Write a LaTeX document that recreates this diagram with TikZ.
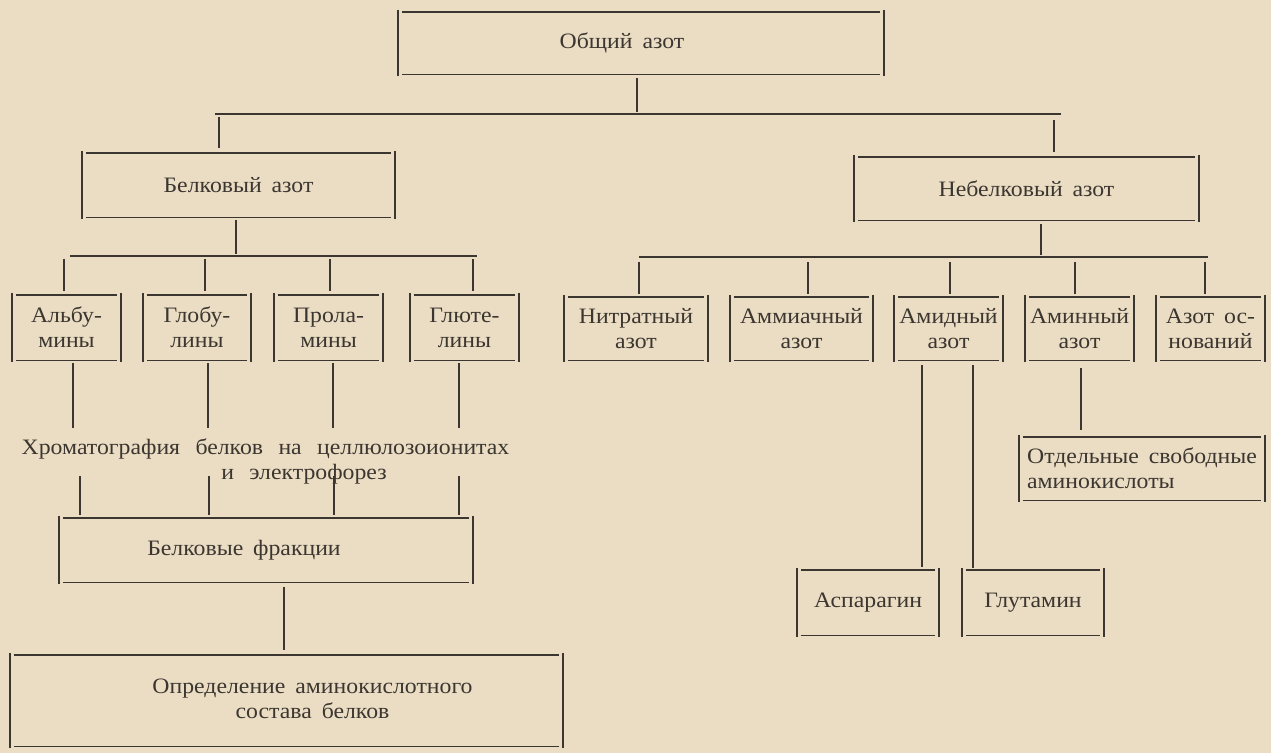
\documentclass[tikz,border=0pt]{standalone}
\usepackage{fontspec}
\setmainfont{Liberation Serif}[FakeStretch=1.08]
\definecolor{paper}{RGB}{234,221,195}
\definecolor{ink}{RGB}{60,54,48}
\newcommand\diafont{\fontsize{22}{25}\selectfont\spaceskip=0.45em plus 0.1em\relax}
\newcommand\widefont{\fontsize{22}{25}\selectfont\spaceskip=0.7em plus 0.1em\relax}
\tikzset{
  box/.style={rectangle, inner sep=0pt, text=ink, font=\diafont},
  conn/.style={draw=ink, line width=1.3pt},
  edgeh/.style={draw=ink, line width=1.4pt},
  edgev/.style={draw=ink, line width=1.7pt},
}
\begin{document}
\begin{tikzpicture}[x=1pt,y=-1pt]
\fill[paper] (0,0) rectangle (1271,753);
\useasboundingbox (0,0) rectangle (1271,753);

% boxes
\node[box, minimum width=486pt, minimum height=62pt] (obs) at (641,43) {Общий азот\hspace*{38pt}};
\node[box, minimum width=313pt, minimum height=64pt] (bel) at (238.5,185) {Белковый азот};
\node[box, minimum width=345pt, minimum height=63pt] (nebel) at (1026.5,188.5) {Небелковый азот};

\node[box, align=center, minimum width=109pt, minimum height=65pt] (alb)  at (66.5,327.5)  {Альбу-\\мины};
\node[box, align=center, minimum width=108pt, minimum height=65pt] (glob) at (197,327.5)   {Глобу-\\лины};
\node[box, align=center, minimum width=109pt, minimum height=65pt] (prol) at (328.5,327.5) {Прола-\\мины};
\node[box, align=center, minimum width=109pt, minimum height=65pt] (glut) at (464.5,327.5) {Глюте-\\лины};

\node[box, align=center, minimum width=144pt, minimum height=63pt] (nitr) at (636,328.5)    {Нитратный\\азот};
\node[box, align=center, minimum width=143pt, minimum height=63pt] (amm)  at (801.5,328.5)  {Аммиачный\\азот};
\node[box, align=center, minimum width=109pt, minimum height=63pt] (amid) at (948.5,328.5)  {Амидный\\азот};
\node[box, align=center, minimum width=109pt, minimum height=63pt] (amin) at (1079.5,328.5) {Аминный\\азот};
\node[box, align=center, minimum width=109pt, minimum height=63pt] (osn)  at (1210.5,328.5) {Азот ос-\\нований};

\node[box, align=left, minimum width=246pt, minimum height=63pt] (otd) at (1142,468.5) {Отдельные свободные\\аминокислоты};
\node[box, minimum width=142pt, minimum height=65pt] (asp) at (868,602.5) {Аспарагин};
\node[box, minimum width=142pt, minimum height=65pt] (glu) at (1033,602.5) {Глутамин};

\node[box, font=\widefont, align=center, inner sep=2pt] (chrom) at (265.5,461)
  {Хроматография белков на целлюлозоионитах\\\hspace*{77pt}и электрофорез};
\node[box, minimum width=414pt, minimum height=64pt] (fr) at (266,550) {Белковые фракции\hspace*{44pt}};
\node[box, minimum width=553pt, minimum height=91pt] (opr) at (286.5,700.5)
  {\hspace*{52pt}\begin{tabular}{@{}c@{}}Определение аминокислотного\\состава белков\end{tabular}};

% box outlines (separate rules, as printed)
\foreach \n in {obs,bel,nebel,alb,glob,prol,glut,nitr,amm,amid,amin,osn,otd,asp,glu,fr,opr}{
  \draw[edgeh] ([xshift=4pt]\n.north west) -- ([xshift=-4pt]\n.north east);
  \draw[edgeh] ([xshift=4pt]\n.south west) -- ([xshift=-4pt]\n.south east);
  \draw[edgev] ([yshift=2pt]\n.north west) -- ([yshift=-2pt]\n.south west);
  \draw[edgev] ([yshift=2pt]\n.north east) -- ([yshift=-2pt]\n.south east);
}

% level 1 bus
\coordinate (t1)  at (637,114);
\coordinate (t1l) at (215,114);
\coordinate (t1r) at (1061,114);
\coordinate (d1a) at (219,114);
\coordinate (d1b) at (1054,114);
\draw[conn, shorten <=4pt, shorten >=2pt] (obs.south -| t1) -- (t1);
\draw[conn] (t1l) -- (t1r);
\draw[conn, shorten <=3pt, shorten >=5pt] (d1a) -- (d1a |- bel.north);
\draw[conn, shorten <=6pt, shorten >=5pt] (d1b) -- (d1b |- nebel.north);

% protein bus
\coordinate (t2)  at (236,256);
\coordinate (t2l) at (70,256);
\coordinate (t2r) at (477,256);
\draw[conn, shorten <=3pt, shorten >=2pt] (bel.south -| t2) -- (t2);
\draw[conn] (t2l) -- (t2r);
\foreach \x/\n in {64/alb,205/glob,330/prol,473/glut}{
  \coordinate (p\n) at (\x,256);
  \draw[conn, shorten <=3pt, shorten >=4pt] (p\n) -- (p\n |- \n.north);
}

% non-protein bus
\coordinate (t3)  at (1041,257);
\coordinate (t3l) at (639,257);
\coordinate (t3r) at (1208,257);
\draw[conn, shorten <=4pt, shorten >=2pt] (nebel.south -| t3) -- (t3);
\draw[conn] (t3l) -- (t3r);
\foreach \x/\n in {639/nitr,808/amm,950/amid,1075/amin,1205/osn}{
  \coordinate (q\n) at (\x,257);
  \draw[conn, shorten <=5pt, shorten >=3pt] (q\n) -- (q\n |- \n.north);
}

% protein classes -> chromatography -> fractions -> analysis
\coordinate (chromtop) at (0,428);
\coordinate (chrombot) at (0,476);
\foreach \x/\n in {73/alb,208/glob,333/prol,459/glut}{
  \coordinate (u\n) at (\x,0);
  \draw[conn, shorten <=3pt] (u\n |- \n.south) -- (u\n |- chromtop);
}
\foreach \x in {80,209,334,459}{
  \coordinate (v\x) at (\x,0);
  \draw[conn, shorten >=3pt] (v\x |- chrombot) -- (v\x |- fr.north);
}
\coordinate (w) at (284,0);
\draw[conn, shorten <=5pt, shorten >=5pt] (w |- fr.south) -- (w |- opr.north);

% amide and amine branches
\coordinate (am1) at (922,0);
\coordinate (am2) at (973,0);
\coordinate (am3) at (1081,0);
\draw[conn, shorten <=5pt, shorten >=3pt] (am1 |- amid.south) -- (am1 |- asp.north);
\draw[conn, shorten <=5pt, shorten >=2pt] (am2 |- amid.south) -- (am2 |- glu.north);
\draw[conn, shorten <=8pt, shorten >=7pt] (am3 |- amin.south) -- (am3 |- otd.north);
\end{tikzpicture}
\end{document}
